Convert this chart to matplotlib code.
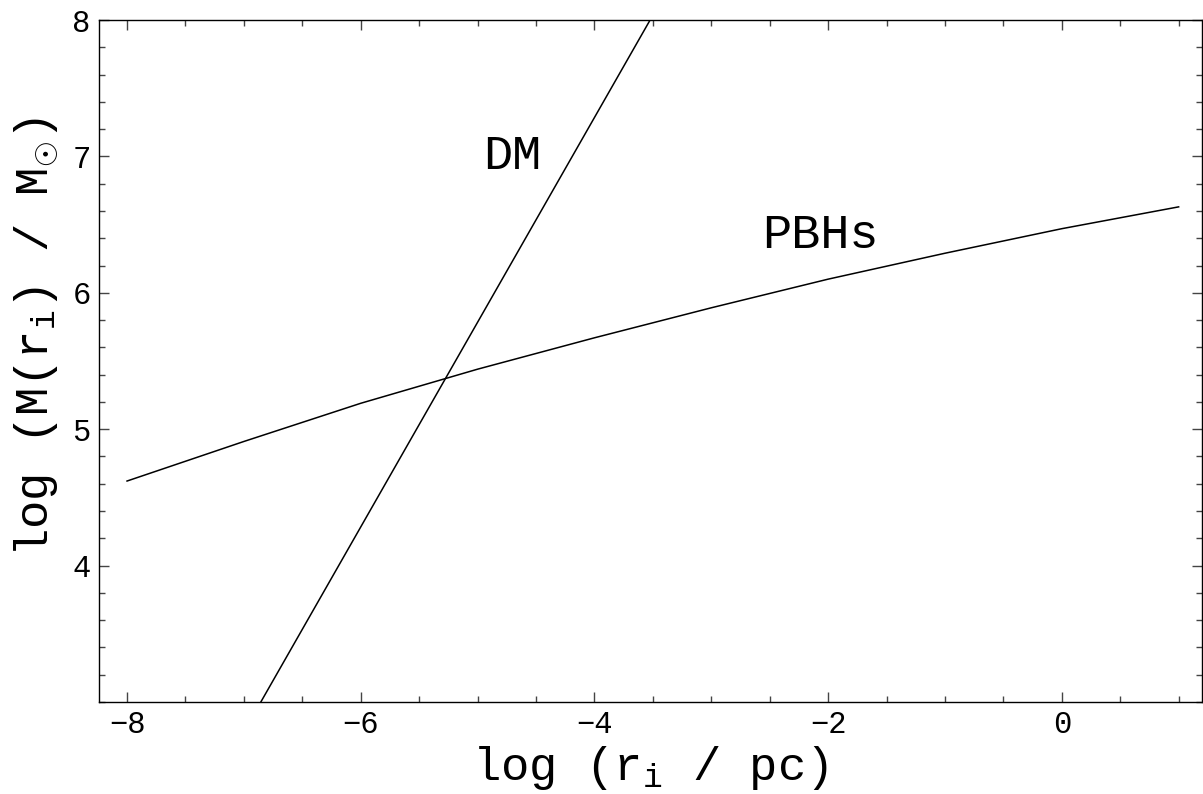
import numpy as np
import matplotlib
matplotlib.use("Agg")
import matplotlib.pyplot as plt
from matplotlib.ticker import MultipleLocator

plt.rcParams['font.family'] = ['Liberation Mono', 'DejaVu Sans']
plt.rcParams['mathtext.fontset'] = 'custom'
plt.rcParams['mathtext.rm'] = 'Liberation Mono'
plt.rcParams['mathtext.it'] = 'Liberation Mono'

# DM line: read at its ends (where it leaves the frame)
dm_x = [-6.855, -3.53]
dm_y = [3.0, 7.99]

# PBHs curve readings
pbh_x = [-8, -7, -6, -5, -4, -3, -2, -1, 0, 1]
pbh_y = [4.62, 4.91, 5.19, 5.44, 5.67, 5.89, 6.10, 6.29, 6.47, 6.63]

xticks = [-8, -6, -4, -2, 0]
yticks = [4, 5, 6, 7, 8]

W, H = 1203, 794
fig = plt.figure(figsize=(W / 100, H / 100), dpi=100)
ax = fig.add_axes([99 / W, (H - 702) / H, (1202 - 99) / W, (702 - 20) / H])

ax.plot(dm_x, dm_y, color='black', lw=1.1)
ax.plot(pbh_x, pbh_y, color='black', lw=1.1)

ax.set_xlim(-8.24, 1.2)
ax.set_ylim(3.0, 8.0)
ax.set_xticks(xticks)
ax.set_yticks(yticks)
ax.set_xticklabels([f"{t}".replace('-', '\u2212') for t in xticks])
ax.set_yticklabels([f"{t}" for t in yticks])
ax.xaxis.set_minor_locator(MultipleLocator(0.5))
ax.yaxis.set_minor_locator(MultipleLocator(0.2))
ax.tick_params(which='both', direction='in', top=True, right=True, color='#444444', width=1.0)
ax.tick_params(which='major', length=7, labelsize=22, pad=6)
ax.tick_params(which='minor', length=4)
for s in ax.spines.values():
    s.set_linewidth(1.0)

ax.text(-4.70, 7.0, 'DM', fontsize=35, ha='center', va='center')
ax.text(-2.07, 6.42, 'PBHs', fontsize=35, ha='center', va='center')

fig.text(0.540, 0.002, r'log (r$_{\mathrm{i}}$ / pc)', fontsize=34, ha='center', va='bottom')
fig.text(0.030, 0.575, r'log (M(r$_{\mathrm{i}}$) / M$_{\odot}$)', fontsize=34, ha='center', va='center', rotation=90)

fig.savefig('out.png', dpi=100)
